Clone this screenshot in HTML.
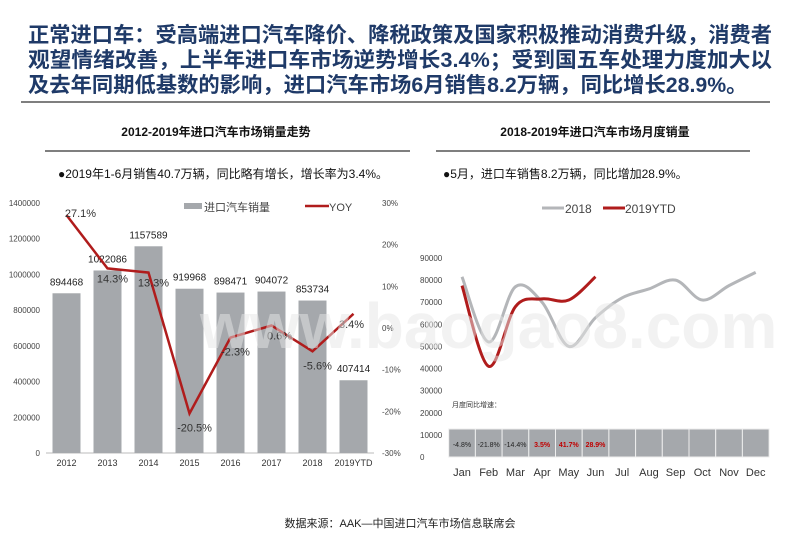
<!DOCTYPE html>
<html><head><meta charset="utf-8">
<style>
body{margin:0;width:800px;height:553px;background:#fff;overflow:hidden;font-family:"Liberation Sans","Noto Sans CJK SC",sans-serif;}
svg{position:absolute;left:0;top:0}
</style></head>
<body>
<svg id="s" width="800" height="553">
<g font-family="Liberation Sans, Noto Sans CJK SC, sans-serif" font-weight="bold" font-size="21.3" fill="#1f3a68">
<text x="28" y="42" textLength="744" lengthAdjust="spacingAndGlyphs">正常进口车：受高端进口汽车降价、降税政策及国家积极推动消费升级，消费者</text>
<text x="28" y="67" textLength="744" lengthAdjust="spacingAndGlyphs">观望情绪改善，上半年进口车市场逆势增长3.4%；受到国五车处理力度加大以</text>
<text x="28" y="92">及去年同期低基数的影响，进口汽车市场6月销售8.2万辆，同比增长28.9%。</text>
</g>
<line x1="21" y1="102" x2="770" y2="102" stroke="#333" stroke-width="1.2"/>
<text x="216" y="136" text-anchor="middle" font-size="12" font-weight="bold" fill="#111">2012-2019年进口汽车市场销量走势</text>
<text x="595" y="136" text-anchor="middle" font-size="12" font-weight="bold" fill="#111">2018-2019年进口汽车市场月度销量</text>
<line x1="45" y1="151" x2="410" y2="151" stroke="#555" stroke-width="1.5"/>
<line x1="436" y1="151" x2="750" y2="151" stroke="#555" stroke-width="1.5"/>
<text x="58" y="178" font-size="12" fill="#111">●2019年1-6月销售40.7万辆，同比略有增长，增长率为3.4%。</text>
<text x="443" y="178" font-size="12" fill="#111">●5月，进口车销售8.2万辆，同比增加28.9%。</text>
<g id="left"></g>
<g id="right"></g>
<text x="200" y="348" font-size="64" font-weight="bold" fill="#e6e6e6" opacity="0.5">www.baogao8.com</text>
<text x="400" y="527" text-anchor="middle" font-size="11" fill="#222">数据来源：AAK—中国进口汽车市场信息联席会</text>
</svg>
<script>
const years=["2012","2013","2014","2015","2016","2017","2018","2019YTD"];
const sales=[894468,1022086,1157589,919968,898471,904072,853734,407414];
const yoy=[27.1,14.3,13.3,-20.5,-2.3,0.6,-5.6,3.4];
const leftTicks=[0,200000,400000,600000,800000,1000000,1200000,1400000];
const rightTicks=[-30,-20,-10,0,10,20,30];
const months=["Jan","Feb","Mar","Apr","May","Jun","Jul","Aug","Sep","Oct","Nov","Dec"];
const s2018=[81500,52000,77000,70000,50000,63000,72000,76000,80000,71000,77500,83500];
const s2019=[77500,41000,68000,71500,71000,81500];
const monthTicks=[0,10000,20000,30000,40000,50000,60000,70000,80000,90000];
const growth=["-4.8%","-21.8%","-14.4%","3.5%","41.7%","28.9%","","","","","",""];
const NS="http://www.w3.org/2000/svg";
function mk(p,t,a,txt){const e=document.createElementNS(NS,t);for(const k in a)e.setAttribute(k,a[k]);if(txt!==undefined)e.textContent=txt;p.appendChild(e);return e;}
// left chart
const L=document.getElementById('left');
const x0=46,bw=41,yB=453,yT=203;
const yL=v=>yB-(v/1400000)*(yB-yT);
const yR=v=>yB-((v+30)/60)*(yB-yT);
const xC=i=>x0+bw*(i+0.5);
leftTicks.forEach(v=>{const t=mk(L,'text',{x:40,y:yL(v)+3,'text-anchor':'end','font-size':8,fill:'#444'},String(v));

});
rightTicks.forEach(v=>{const t=mk(L,'text',{x:382,y:yR(v)+3,'font-size':8,fill:'#444'},v+'%');

});
mk(L,'line',{x1:x0,y1:yB,x2:x0+bw*8,y2:yB,stroke:'#bbb'});
sales.forEach((v,i)=>{const r=mk(L,'rect',{x:xC(i)-14,y:yL(v),width:28,height:yB-yL(v),fill:'#a5a8ac'});


const t=mk(L,'text',{x:xC(i),y:yL(v)-8,'text-anchor':'middle','font-size':10,fill:'#222'},String(v));


const c=mk(L,'text',{x:xC(i),y:466,'text-anchor':'middle','font-size':9,fill:'#333'},years[i]);

});
const pl=mk(L,'polyline',{points:yoy.map((v,i)=>xC(i)+','+yR(v)).join(' '),fill:'none',stroke:'#b01c1c','stroke-width':2.5});


yoy.forEach((v,i)=>{const dy=i==0?2:(v<0?18:14),dx=i==0?14:(i==7?-2:(i==5?8:5));
const t=mk(L,'text',{x:xC(i)+dx,y:yR(v)+dy,'text-anchor':'middle','font-size':11,fill:'#333'},v.toFixed(1)+'%');

});
const lg1=mk(L,'rect',{x:184,y:203,width:18,height:6,fill:'#a5a8ac'});


const lg2=mk(L,'text',{x:204,y:211,'font-size':11,fill:'#444'},'进口汽车销量');


const lg3=mk(L,'line',{x1:305,y1:206,x2:329,y2:206,stroke:'#b01c1c','stroke-width':2.5});


const lg4=mk(L,'text',{x:329,y:211,'font-size':11,fill:'#444'},'YOY');


// right chart
const R=document.getElementById('right');
const mB=457,mT=258,mx0=462,mstep=26.7;
const ym=v=>mB-(v/90000)*(mB-mT);
const xm=i=>mx0+mstep*i;
monthTicks.forEach(v=>{const t=mk(R,'text',{x:420,y:ym(v)+3,'font-size':8,fill:'#444'},String(v));

});
const lbl=mk(R,'text',{x:452,y:407,'font-size':7,fill:'#333'},'月度同比增速：');


growth.forEach((g,i)=>{const c=mk(R,'rect',{x:xm(i)-13.3,y:429,width:26.7,height:28,fill:'#a5a8ac',stroke:'#eee','stroke-width':1});


const t=mk(R,'text',{x:xm(i),y:447,'text-anchor':'middle','font-size':7,fill:i>=3?'#c00000':'#222','font-weight':i>=3?'bold':'normal'},g);

});
months.forEach((m,i)=>{const t=mk(R,'text',{x:xm(i),y:476,'text-anchor':'middle','font-size':11,fill:'#333'},m);

});
function smooth(arr){const p=arr.map((v,i)=>[xm(i),ym(v)]);let d='M'+p[0][0]+','+p[0][1];
for(let i=0;i<p.length-1;i++){const p0=p[i-1]||p[i],p1=p[i],p2=p[i+1],p3=p[i+2]||p2;
d+=' C'+(p1[0]+(p2[0]-p0[0])/6)+','+(p1[1]+(p2[1]-p0[1])/6)+' '+(p2[0]-(p3[0]-p1[0])/6)+','+(p2[1]-(p3[1]-p1[1])/6)+' '+p2[0]+','+p2[1];}return d;}
const l18=mk(R,'path',{d:smooth(s2018),fill:'none',stroke:'#b4b6b9','stroke-width':3});


const l19=mk(R,'path',{d:smooth(s2019),fill:'none',stroke:'#b01c1c','stroke-width':3});


const a1=mk(R,'line',{x1:542,y1:208,x2:564,y2:208,stroke:'#b4b6b9','stroke-width':3});


const a2=mk(R,'text',{x:565,y:213,'font-size':12,fill:'#444'},'2018');


const a3=mk(R,'line',{x1:603,y1:208,x2:625,y2:208,stroke:'#b01c1c','stroke-width':3});


const a4=mk(R,'text',{x:625,y:213,'font-size':12,fill:'#444'},'2019YTD');


</script>
</body></html>
